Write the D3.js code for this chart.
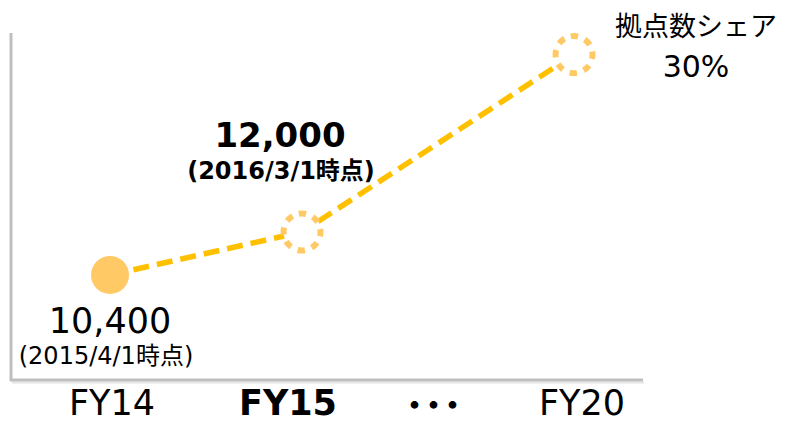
<!DOCTYPE html>
<html>
<head>
<meta charset="utf-8">
<script src="https://cdn.jsdelivr.net/npm/d3@7"></script>
<style>
  body { margin: 0; background: #fff; }
  text { font-family: 'DejaVu Sans', 'Noto Sans CJK JP', sans-serif; }
</style>
</head>
<body>
<div id="chart"></div>
<script>
// data
const categories = ['FY14', 'FY15', 'FY20'];
const values = [10400, 12000, 18600];
const actual = [true, false, false];
const tickLabels = ['FY14', 'FY15', '・・・', 'FY20'];
const boldTicks = ['FY15'];

const WIDTH = 785, HEIGHT = 424;

const svg = d3.select('#chart').append('svg')
  .attr('width', WIDTH)
  .attr('height', HEIGHT);

const x = d3.scaleOrdinal().domain(categories).range([110, 302, 574]);
const xTick = d3.scaleOrdinal().domain(tickLabels).range([112, 288, 428, 582]);
const y = d3.scaleLinear().domain([10400, 12000]).range([275, 232]);

// frame (left + bottom axis lines)
svg.append('line')
  .attr('x1', 11).attr('x2', 11).attr('y1', 33).attr('y2', 381)
  .attr('stroke', '#bfbfbf').attr('stroke-width', 3);
svg.append('line')
  .attr('x1', 12).attr('x2', 644).attr('y1', 382.5).attr('y2', 382.5)
  .attr('stroke', '#e4e4e4').attr('stroke-width', 2);
svg.append('line')
  .attr('x1', 10).attr('x2', 643).attr('y1', 380).attr('y2', 380)
  .attr('stroke', '#bfbfbf').attr('stroke-width', 3);

const pts = categories.map((c, i) => ({ cat: c, value: values[i], actual: actual[i] }));

const line = d3.line().x(d => x(d.cat)).y(d => y(d.value));
svg.append('path')
  .datum(pts)
  .attr('d', line)
  .attr('fill', 'none')
  .attr('stroke', '#ffc000')
  .attr('stroke-width', 5.5)
  .attr('stroke-dasharray', '16 8');

// markers
svg.selectAll('circle.marker')
  .data(pts)
  .enter().append('circle')
  .attr('class', 'marker')
  .attr('cx', d => x(d.cat))
  .attr('cy', d => y(d.value))
  .attr('r', d => d.actual ? 19 : 18.5)
  .attr('fill', d => d.actual ? '#ffc966' : '#fff')
  .attr('stroke', d => d.actual ? 'none' : '#ffc966')
  .attr('stroke-width', 6)
  .attr('stroke-dasharray', d => d.actual ? null : '7.3 7.22')
  .attr('transform', d => d.actual ? null : `rotate(-100 ${x(d.cat)} ${y(d.value)})`);

// value labels
svg.append('text')
  .attr('x', x('FY14')).attr('y', 333)
  .attr('text-anchor', 'middle')
  .attr('font-size', 35)
  .text('10,400');
svg.append('text')
  .attr('x', 106).attr('y', 364)
  .attr('text-anchor', 'middle')
  .attr('font-size', 24)
  .text('(2015/4/1時点)');

svg.append('text')
  .attr('x', 280).attr('y', 147)
  .attr('text-anchor', 'middle')
  .attr('font-size', 34)
  .attr('font-weight', 'bold')
  .text('12,000');
svg.append('text')
  .attr('x', 281).attr('y', 179)
  .attr('text-anchor', 'middle')
  .attr('font-size', 24)
  .attr('font-weight', 'bold')
  .text('(2016/3/1時点)');

svg.append('text')
  .attr('x', 696).attr('y', 36)
  .attr('text-anchor', 'middle')
  .attr('font-size', 27)
  .text('拠点数シェア');
svg.append('text')
  .attr('x', 696).attr('y', 77)
  .attr('text-anchor', 'middle')
  .attr('font-size', 30)
  .text('30%');

// category labels
svg.selectAll('text.tick')
  .data(tickLabels)
  .enter().append('text')
  .attr('class', 'tick')
  .attr('x', d => xTick(d))
  .attr('y', d => d === '・・・' ? 416 : 415)
  .attr('text-anchor', 'middle')
  .attr('font-size', d => d === '・・・' ? 30 : 35)
  .attr('letter-spacing', d => d === '・・・' ? -11 : null)
  .attr('font-weight', d => boldTicks.includes(d) || d === '・・・' ? 'bold' : 'normal')
  .text(d => d);
</script>
</body>
</html>
